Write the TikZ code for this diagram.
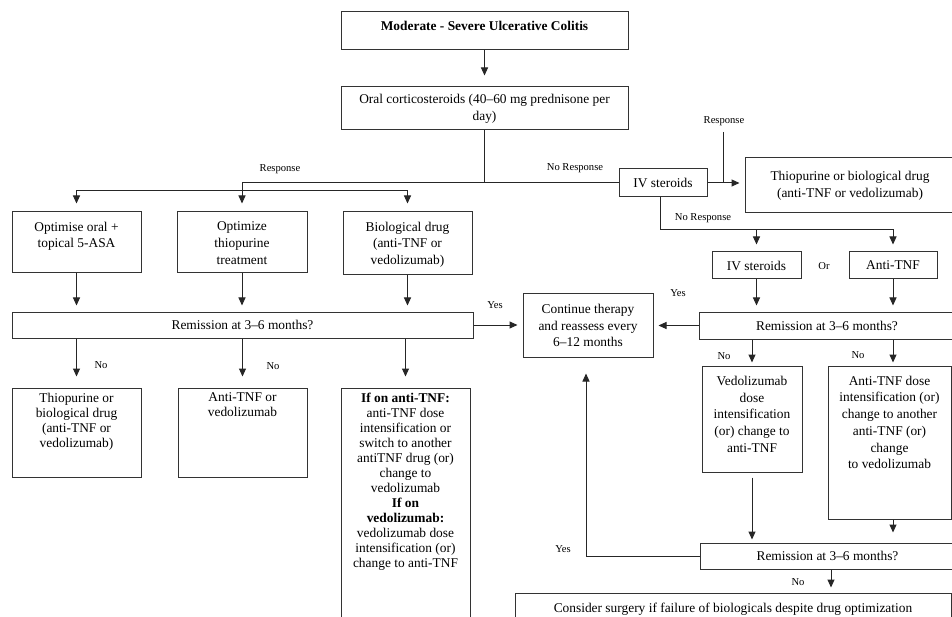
\documentclass[tikz,border=0pt]{standalone}
\usepackage{fontspec}
\setmainfont{Liberation Serif}
\usetikzlibrary{arrows.meta}
\begin{document}
\begin{tikzpicture}[x=1pt,y=-1pt,
  box/.style={draw=black!80, line width=1pt, inner sep=0pt, align=center, font=\fontsize{13.4}{16.7}\selectfont},
  tbox/.style={draw=black!80, line width=1pt, inner sep=0pt, font=\fontsize{13.4}{16.7}\selectfont},
  lbl/.style={inner sep=0pt, font=\fontsize{10.6}{12}\selectfont},
  conn/.style={draw=black!85, line width=1pt},
  arr/.style={conn, -{Triangle[length=8pt,width=7pt]}},
]
\useasboundingbox (0,0) rectangle (952,617);
\fill[white] (0,0) rectangle (952,617);
\clip (0,0) rectangle (952,617);

% boxes
\node[tbox] (top) at (484.5,31) {\parbox[c][38pt][t]{287pt}{\vspace*{9pt}\centering\bfseries Moderate - Severe Ulcerative Colitis}};
\node[box, minimum width=287pt, minimum height=43pt] (oral) at (484.5,108.5) {Oral corticosteroids (40–60 mg prednisone per\\day)};
\node[box, minimum width=88pt, minimum height=28pt] (ivs) at (663,183) {IV steroids};
\node[box, minimum width=210pt, minimum height=55pt] (thio) at (850,185.5) {Thiopurine or biological drug\\(anti-TNF or vedolizumab)};

\node[tbox] (opt1) at (76.5,242.5) {\parbox[c][61pt][t]{129pt}{\vspace*{10pt}\centering Optimise oral +\\topical 5-ASA}};
\node[tbox] (opt2) at (242,242.5) {\parbox[c][61pt][t]{130pt}{\vspace*{10pt}\centering Optimize\\thiopurine\\treatment}};
\node[tbox] (bio) at (407.5,243.5) {\parbox[c][63pt][t]{129pt}{\vspace*{10pt}\centering Biological drug\\(anti-TNF or\\vedolizumab)}};

\node[box, minimum width=461pt, minimum height=26pt] (remL) at (242.5,325) {Remission at 3–6 months?};

\node[tbox] (no1) at (76.5,432.5) {\parbox[c][89pt][t]{129pt}{\vspace*{5pt}\baselineskip=15pt\centering Thiopurine or\\biological drug\\(anti-TNF or\\vedolizumab)}};
\node[tbox] (no2) at (242.5,432.5) {\parbox[c][89pt][t]{129pt}{\vspace*{5pt}\baselineskip=15pt\centering Anti-TNF or\\vedolizumab}};
\node[tbox] (ifon) at (405.5,509) {\parbox[c][242pt][t]{129pt}{\vspace*{5pt}\baselineskip=15pt\centering \textbf{If on anti-TNF:}\\anti-TNF dose\\intensification or\\switch to another\\antiTNF drug (or)\\change to\\vedolizumab\\\textbf{If on}\\\textbf{vedolizumab:}\\vedolizumab dose\\intensification (or)\\change to anti-TNF}};

\node[box, minimum width=130pt, minimum height=63pt] (cont) at (588,325.5) {Continue therapy\\and reassess every\\6–12 months};

\node[box, minimum width=89pt, minimum height=27pt] (ivs2) at (756.5,265.5) {IV steroids};
\node[box, minimum width=88pt, minimum height=27pt] (atnf) at (893,265.5) {Anti-TNF};
\node[box, minimum width=256pt, minimum height=27pt] (remR) at (827,325.5) {Remission at 3–6 months?};

\node[tbox] (vedo) at (752,419) {\parbox[c][106pt][t]{100pt}{\vspace*{10pt}\centering Vedolizumab\\dose\\intensification\\(or) change to\\anti-TNF}};
\node[tbox] (atd) at (889.5,442.5) {\parbox[c][153pt][t]{123pt}{\vspace*{10pt}\centering Anti-TNF dose\\intensification (or)\\change to another\\anti-TNF (or)\\change\\to vedolizumab}};

\node[box, minimum width=255pt, minimum height=26pt] (remB) at (827.5,556) {Remission at 3–6 months?};
\node[tbox] (surg) at (733,611.5) {\parbox[c][37pt][t]{436pt}{\vspace*{10pt}\centering Consider surgery if failure of biologicals despite drug optimization}};

% connectors
\draw[arr, shorten >=11pt] (top) -- (oral);
\draw[conn] (oral.south) -- (oral.south |- ivs.west);
\draw[arr, shorten >=8pt] (ivs.west) -| (opt2.north);
\coordinate (split) at (242,191);
\draw[arr, shorten >=8pt] (split) -| (opt1.north);
\draw[arr, shorten >=8pt] (split) -| (bio.north);

\draw[arr, shorten >=6pt] (opt1) -- (opt1 |- remL.north);
\draw[arr, shorten >=6pt] (opt2) -- (opt2 |- remL.north);
\draw[arr, shorten >=6pt] (bio) -- (bio |- remL.north);

\draw[arr, shorten >=11pt] (remL.south -| no1) -- (no1);
\draw[arr, shorten >=11pt] (remL.south -| no2) -- (no2);
\draw[arr, shorten >=11pt] (remL.south -| ifon) -- (ifon);

\draw[arr, shorten >=5pt] (remL) -- (remL -| cont.west);
\draw[arr, shorten >=5pt] (ivs) -- (ivs -| thio.west);

\coordinate (respTop) at (723,132);
\draw[conn] (respTop) -- (respTop |- ivs.east);

\coordinate (nr) at (660,230);
\draw[arr, shorten >=7pt] (ivs.south -| nr) -- (nr) -| (atnf.north);
\draw[arr, shorten >=7pt] (nr -| ivs2) -- (ivs2.north);
\draw[arr, shorten >=6pt] (ivs2) -- (ivs2 |- remR.north);
\draw[arr, shorten >=6pt] (atnf) -- (atnf |- remR.north);
\draw[arr, shorten >=5pt] (remR) -- (remR -| cont.east);

\coordinate (cR) at (893,0);
\draw[arr, shorten >=3pt] (remR.south -| vedo) -- (vedo.north);
\draw[arr, shorten >=3pt] (remR.south -| cR) -- (atd.north -| cR);
\draw[arr, shorten <=5pt, shorten >=3pt] (vedo) -- (vedo |- remB.north);
\draw[arr, shorten >=10pt] (atd.south -| cR) -- (remB.north -| cR);

\coordinate (yb) at (586,0);
\draw[arr, shorten >=16pt] (remB.west) -| (cont.south -| yb);
\coordinate (cB) at (831,0);
\draw[arr, shorten >=5pt] (remB.south -| cB) -- (surg.north -| cB);

% labels
\node[lbl] (lresp1) at (280,169) {Response};
\node[lbl] (lnr1) at (575,168) {No Response};
\node[lbl] (lresp2) at (724,121) {Response};
\node[lbl] (lnr2) at (703,218) {No Response};
\node[lbl] (lor) at (824,266) {Or};
\node[lbl] (lyes1) at (495,305) {Yes};
\node[lbl] (lyes2) at (678,293) {Yes};
\node[lbl] (lno1) at (101,365) {No};
\node[lbl] (lno2) at (273,366) {No};
\node[lbl] (lno3) at (724,356) {No};
\node[lbl] (lno4) at (858,355) {No};
\node[lbl] (lyes3) at (563,549) {Yes};
\node[lbl] (lno5) at (798,582) {No};
\end{tikzpicture}
\end{document}
